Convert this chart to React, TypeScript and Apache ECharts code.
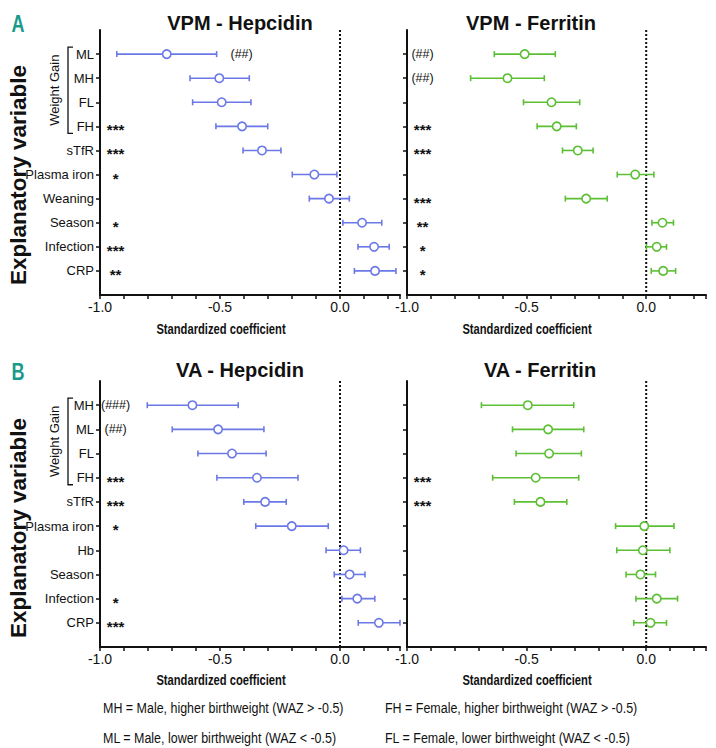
import React, { useEffect, useRef } from "react";
import * as echarts from "echarts";

const FONT = "'Liberation Sans', Arial, Helvetica, sans-serif";
const INK = "#111111";
const BLUE = "#6b79e6";
const GREEN = "#5cbf35";
const TEAL = "#1a9a8a";

// Categories
const catsVPM = ["ML", "MH", "FL", "FH", "sTfR", "Plasma iron", "Weaning", "Season", "Infection", "CRP"];
const catsVA = ["MH", "ML", "FL", "FH", "sTfR", "Plasma iron", "Hb", "Season", "Infection", "CRP"];

// VPM - Hepcidin
const vpmHepEst = [-0.722, -0.503, -0.493, -0.408, -0.325, -0.107, -0.046, 0.092, 0.142, 0.146];
const vpmHepLo = [-0.93, -0.625, -0.614, -0.517, -0.404, -0.199, -0.128, 0.012, 0.075, 0.06];
const vpmHepHi = [-0.514, -0.378, -0.371, -0.301, -0.246, -0.013, 0.039, 0.174, 0.205, 0.233];
const vpmHepSig = ["(##)", "", "", "***", "***", "*", "", "*", "***", "**"];

// VPM - Ferritin
const vpmFerEst = [-0.508, -0.58, -0.396, -0.374, -0.286, -0.046, -0.251, 0.068, 0.044, 0.071];
const vpmFerLo = [-0.635, -0.734, -0.513, -0.456, -0.35, -0.121, -0.338, 0.024, 0.001, 0.021];
const vpmFerHi = [-0.38, -0.426, -0.278, -0.292, -0.222, 0.032, -0.163, 0.114, 0.085, 0.123];
const vpmFerSig = ["(##)", "(##)", "", "***", "***", "", "***", "**", "*", "*"];

// VA - Hepcidin
const vaHepEst = [-0.615, -0.508, -0.45, -0.346, -0.312, -0.201, 0.015, 0.04, 0.072, 0.162];
const vaHepLo = [-0.803, -0.699, -0.592, -0.513, -0.401, -0.351, -0.058, -0.024, 0.008, 0.076];
const vaHepHi = [-0.424, -0.317, -0.308, -0.175, -0.224, -0.049, 0.085, 0.104, 0.145, 0.25];
const vaHepSig = ["(###)", "(##)", "", "***", "***", "*", "", "", "*", "***"];

// VA - Ferritin
const vaFerEst = [-0.495, -0.41, -0.406, -0.462, -0.442, -0.008, -0.014, -0.024, 0.044, 0.018];
const vaFerLo = [-0.689, -0.559, -0.544, -0.642, -0.551, -0.128, -0.123, -0.084, -0.043, -0.052];
const vaFerHi = [-0.303, -0.261, -0.271, -0.282, -0.332, 0.116, 0.099, 0.039, 0.131, 0.085];
const vaFerSig = ["", "", "", "***", "***", "", "", "", "", ""];

// x-axis
const X_MIN = -1;
const X_MAX = 0.25;
const X_STEP = 0.1;

const legendLeft = [
  "MH = Male, higher birthweight (WAZ > -0.5)",
  "ML = Male, lower birthweight (WAZ < -0.5)",
];
const legendRight = [
  "FH = Female, higher birthweight (WAZ > -0.5)",
  "FL = Female, lower birthweight (WAZ < -0.5)",
];

// layout
const LEFT_X = 100;
const LEFT_W = 300;
const RIGHT_X = 407;
const RIGHT_W = 299;
const A_TOP = 30;
const A_H = 265;
const B_TOP = 381;
const B_H = 266;
const ANNOT_X = -0.935;

type Panel = {
  title: string;
  color: string;
  cats: string[];
  est: number[];
  lo: number[];
  hi: number[];
  sig: string[];
  left: number;
  width: number;
  top: number;
  height: number;
  showLabels: boolean;
  titleX: number;
  titleY: number;
  sigPos?: Record<number, number>;
};

const panels: Panel[] = [
  { title: "VPM - Hepcidin", color: BLUE, cats: catsVPM, est: vpmHepEst, lo: vpmHepLo, hi: vpmHepHi, sig: vpmHepSig,
    left: LEFT_X, width: LEFT_W, top: A_TOP, height: A_H, showLabels: true, titleX: 240, titleY: 23, sigPos: { 0: -0.41 } },
  { title: "VPM - Ferritin", color: GREEN, cats: catsVPM, est: vpmFerEst, lo: vpmFerLo, hi: vpmFerHi, sig: vpmFerSig,
    left: RIGHT_X, width: RIGHT_W, top: A_TOP, height: A_H, showLabels: false, titleX: 531, titleY: 23 },
  { title: "VA - Hepcidin", color: BLUE, cats: catsVA, est: vaHepEst, lo: vaHepLo, hi: vaHepHi, sig: vaHepSig,
    left: LEFT_X, width: LEFT_W, top: B_TOP, height: B_H, showLabels: true, titleX: 240, titleY: 370 },
  { title: "VA - Ferritin", color: GREEN, cats: catsVA, est: vaFerEst, lo: vaFerLo, hi: vaFerHi, sig: vaFerSig,
    left: RIGHT_X, width: RIGHT_W, top: B_TOP, height: B_H, showLabels: false, titleX: 540, titleY: 370 },
];

function xLabel(v: number): string {
  const twice = v * 2;
  if (Math.abs(twice - Math.round(twice)) < 1e-6 && v <= 1e-9) {
    return (Math.abs(v) < 1e-9 ? 0 : v).toFixed(1);
  }
  return "";
}

function buildOption() {
  const grids: any[] = [];
  const xAxes: any[] = [];
  const yAxes: any[] = [];
  const series: any[] = [];
  const graphics: any[] = [];

  panels.forEach((p, g) => {
    grids.push({ left: p.left, top: p.top, width: p.width, height: p.height, containLabel: false });
    xAxes.push({
      gridIndex: g,
      type: "value",
      min: X_MIN,
      max: X_MAX,
      interval: X_STEP,
      axisLine: { show: true, onZero: false, lineStyle: { color: INK, width: 2 } },
      axisTick: { show: true, length: 4, lineStyle: { color: INK, width: 1.5 } },
      axisLabel: { color: INK, fontSize: 14, fontFamily: FONT, margin: 5, formatter: xLabel },
      splitLine: { show: false },
    });
    yAxes.push({
      gridIndex: g,
      type: "category",
      data: ["", ...p.cats, ""],
      inverse: true,
      boundaryGap: false,
      axisLine: { show: true, onZero: false, lineStyle: { color: INK, width: 2 } },
      axisTick: {
        show: true,
        length: 4,
        interval: (i: number) => i > 0 && i <= p.cats.length,
        lineStyle: { color: INK, width: 1.5 },
      },
      axisLabel: { show: p.showLabels, interval: 0, color: INK, fontSize: 13, fontFamily: FONT, margin: 6 },
      splitLine: { show: false },
    });

    const nCats = p.cats.length;
    series.push({
      type: "custom",
      xAxisIndex: g,
      yAxisIndex: g,
      encode: { x: [1, 2, 3], y: 0 },
      data: p.est.map((e, i) => [i + 1, e, p.lo[i], p.hi[i]]),
      renderItem: (params: any, api: any) => {
        const idx = api.value(0);
        const pE = api.coord([api.value(1), idx]);
        const pL = api.coord([api.value(2), idx]);
        const pH = api.coord([api.value(3), idx]);
        const y = pE[1];
        const stroke = { stroke: p.color, lineWidth: 1.6 };
        const children: any[] = [];
        if (params.dataIndex === 0) {
          const z0 = api.coord([0, 0]);
          const z1 = api.coord([0, nCats + 1]);
          children.push({
            type: "line",
            shape: { x1: z0[0], y1: z0[1], x2: z1[0], y2: z1[1] },
            style: { stroke: INK, lineWidth: 2, lineDash: [2, 2] },
          });
        }
        children.push(
          { type: "line", shape: { x1: pL[0], y1: y, x2: pH[0], y2: y }, style: stroke },
          { type: "line", shape: { x1: pL[0], y1: y - 3, x2: pL[0], y2: y + 3 }, style: stroke },
          { type: "line", shape: { x1: pH[0], y1: y - 3, x2: pH[0], y2: y + 3 }, style: stroke },
          { type: "circle", shape: { cx: pE[0], cy: y, r: 4.2 }, style: { fill: "#ffffff", stroke: p.color, lineWidth: 1.6 } }
        );
        return { type: "group", children };
      },
      z: 3,
    });

    const items = p.sig.map((t, i) => ({ t, i })).filter((d) => d.t);
    series.push({
      type: "custom",
      xAxisIndex: g,
      yAxisIndex: g,
      encode: { x: 0, y: 1 },
      data: items.map((d) => [p.sigPos && p.sigPos[d.i] !== undefined ? p.sigPos[d.i] : ANNOT_X, d.i + 1]),
      renderItem: (params: any, api: any) => {
        const t = items[params.dataIndex].t;
        const pt = api.coord([api.value(0), api.value(1)]);
        const isStar = t.indexOf("*") >= 0;
        return {
          type: "text",
          x: pt[0],
          y: pt[1] + (isStar ? 3.5 : 0),
          style: {
            text: t,
            fill: INK,
            fontSize: isStar ? 15 : 12.5,
            fontWeight: isStar ? "bold" : "normal",
            fontFamily: FONT,
            align: "center",
            verticalAlign: "middle",
          },
        };
      },
      z: 4,
    });

    graphics.push({
      type: "text",
      x: p.titleX,
      y: p.titleY,
      style: { text: p.title, fill: INK, fontSize: 20, fontWeight: "bold", fontFamily: FONT, align: "center", verticalAlign: "middle" },
    });
  });

  // Axis names
  const axisNameY = [330, 681];
  axisNameY.forEach((yy) => {
    [221, 527].forEach((xx) => {
      graphics.push({
        type: "text",
        x: xx,
        y: yy,
        scaleX: 0.8,
        style: { text: "Standardized coefficient", fill: INK, fontSize: 14, fontWeight: "bold", fontFamily: FONT, align: "center", verticalAlign: "middle" },
      });
    });
  });

  // Panel letters, y titles, weight gain brackets
  [
    { letter: "A", top: A_TOP, h: A_H, letterY: 24, yTitle: 175 },
    { letter: "B", top: B_TOP, h: B_H, letterY: 372, yTitle: 528 },
  ].forEach((b) => {
    graphics.push({
      type: "text",
      x: 18,
      y: b.letterY,
      scaleX: 0.75,
      style: { text: b.letter, fill: TEAL, fontSize: 24, fontWeight: "bold", fontFamily: FONT, align: "center", verticalAlign: "middle" },
    });
    graphics.push({
      type: "text",
      x: 18,
      y: b.yTitle,
      rotation: Math.PI / 2,
      style: { text: "Explanatory variable", fill: INK, fontSize: 22.5, fontWeight: "bold", fontFamily: FONT, align: "center", verticalAlign: "middle" },
    });
    const step = b.h / 11;
    const yTop = b.top + step - 7;
    const yBot = b.top + 4 * step + 7;
    graphics.push({
      type: "polyline",
      shape: { points: [[73, yTop], [68, yTop], [68, yBot], [73, yBot]] },
      style: { stroke: INK, lineWidth: 1.3, fill: "none" },
    });
    graphics.push({
      type: "text",
      x: 54,
      y: (yTop + yBot) / 2,
      rotation: Math.PI / 2,
      style: { text: "Weight Gain", fill: INK, fontSize: 13, fontFamily: FONT, align: "center", verticalAlign: "middle" },
    });
  });

  // Legend
  [708, 738].forEach((yy, i) => {
    graphics.push({
      type: "text",
      x: 103,
      y: yy,
      scaleX: 0.89,
      style: { text: legendLeft[i], fill: INK, fontSize: 14, fontFamily: FONT, align: "left", verticalAlign: "middle" },
    });
    graphics.push({
      type: "text",
      x: 385,
      y: yy,
      scaleX: 0.89,
      style: { text: legendRight[i], fill: INK, fontSize: 14, fontFamily: FONT, align: "left", verticalAlign: "middle" },
    });
  });

  return {
    animation: false,
    backgroundColor: "#ffffff",
    grid: grids,
    xAxis: xAxes,
    yAxis: yAxes,
    series,
    graphic: graphics,
  };
}

export default function App() {
  const ref = useRef<HTMLDivElement>(null);
  useEffect(() => {
    if (!ref.current) return;
    const chart = echarts.init(ref.current, undefined, { renderer: "svg" });
    chart.setOption(buildOption() as any);
    return () => chart.dispose();
  }, []);
  return (
    <div
      ref={ref}
      style={{ position: "absolute", left: 0, top: 0, width: 716, height: 748, background: "#fff" }}
    />
  );
}
